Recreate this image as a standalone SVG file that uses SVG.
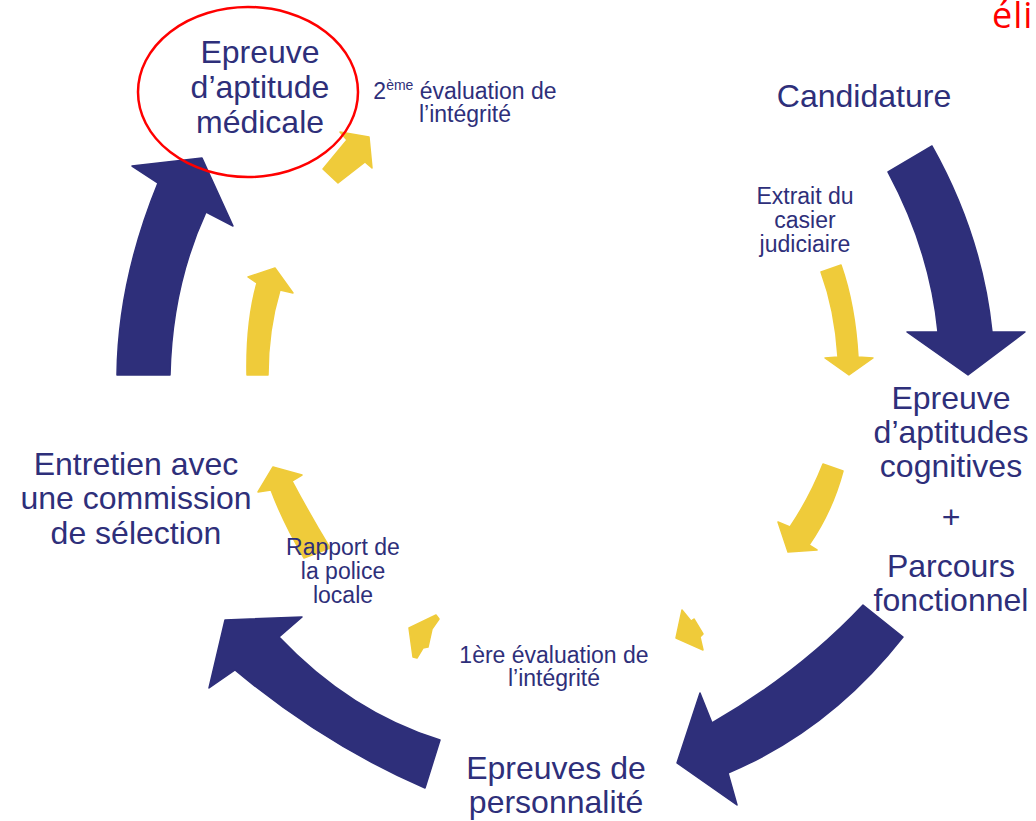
<svg xmlns="http://www.w3.org/2000/svg" width="1036" height="821" viewBox="0 0 1036 821">
<style>
.navy{fill:#2E2F7A;stroke:#2E2F7A;stroke-width:1.5;stroke-linejoin:round}
.yel{fill:#EFCB3A;stroke:#EFCB3A;stroke-width:1.5;stroke-linejoin:round}
.big{font-family:"Liberation Sans",Arial,sans-serif;font-size:32px;fill:#2E2F7A;text-anchor:middle}
.sm{font-family:"Liberation Sans",Arial,sans-serif;font-size:23px;fill:#2E2F7A;text-anchor:middle}
</style>
<rect width="1036" height="821" fill="#ffffff"/>
<g id="connectors">
  <path id="a1" class="navy" d="M888,172 L932,146 Q982,235 992,332 L1025,332 L968,375 L907,332 L938,332 Q930,250 888,172 Z"/>
  <path id="a2" class="navy" d="M863,605 L903,637 Q830,730 728,773 L737,805 L677,763 L700,693 L712,723 Q800,672 863,605 Z"/>
  <path id="a3" class="navy" d="M440,740 Q350,712 279,637 L302,617 L225,620 L209,688 L235,670 Q325,745 425,788 Z"/>
  <path id="a4" class="navy" d="M117,375 L170,375 Q172,286 206,212 L233,226 L202,158 L132,166 L158,183 Q118,281 117,375 Z"/>
  <path id="y1" class="yel" d="M821,272 L841,265 Q855,305 858,357 L873,358 L849,375 L825,358 L838,357 Q835,310 821,272 Z"/>
  <path id="y2" class="yel" d="M823,464 L843,471 Q832,512 809,545 L817,550 L788,552 L778,522 L790,527 Q810,497 823,464 Z"/>
  <polygon id="y3" class="yel" points="682,610 691,621 694,619 703,634 700,637 703,650 676,638"/>
  <polygon id="y4" class="yel" points="409,628 436,615 439,619 432,629 428,647 423,648 417,658 413,657"/>
  <path id="y5" class="yel" d="M304,558 Q283,522 271,490 L258,492 L273,467 L302,475 L292,481 Q310,515 330,548 Z"/>
  <path id="y6" class="yel" d="M247,375 Q246,322 257,283 L248,277 L275,268 L293,293 L280,290 Q268,330 268,375 Z"/>
  <path id="y7" class="yel" d="M323,169 L347,140 L340,132 L369,137 L372,168 L365,162 L338,183 Z"/>
</g>
<g id="node-medicale">
  <text class="big" x="260" y="63">Epreuve</text>
  <text class="big" x="260" y="98">d’aptitude</text>
  <text class="big" x="260" y="133">médicale</text>
</g>
<g id="node-candidature">
  <text class="big" x="864" y="107">Candidature</text>
</g>
<g id="node-cognitives">
  <text class="big" x="951" y="409">Epreuve</text>
  <text class="big" x="951" y="443">d’aptitudes</text>
  <text class="big" x="951" y="477">cognitives</text>
  <text class="big" x="951" y="528">+</text>
  <text class="big" x="951" y="577">Parcours</text>
  <text class="big" x="951" y="611">fonctionnel</text>
</g>
<g id="node-personnalite">
  <text class="big" x="556" y="779">Epreuves de</text>
  <text class="big" x="556" y="813">personnalité</text>
</g>
<g id="node-entretien">
  <text class="big" x="136" y="475">Entretien avec</text>
  <text class="big" x="136" y="509">une commission</text>
  <text class="big" x="136" y="544">de sélection</text>
</g>
<g id="label-extrait">
  <text class="sm" x="805" y="204">Extrait du</text>
  <text class="sm" x="805" y="228">casier</text>
  <text class="sm" x="805" y="252">judiciaire</text>
</g>
<g id="label-rapport">
  <text class="sm" x="343" y="555">Rapport de</text>
  <text class="sm" x="343" y="579">la police</text>
  <text class="sm" x="343" y="603">locale</text>
</g>
<g id="label-eval1">
  <text class="sm" x="554" y="663">1ère évaluation de</text>
  <text class="sm" x="554" y="686">l’intégrité</text>
</g>
<g id="label-eval2">
  <text class="sm" x="465" y="99">2<tspan font-size="14" dy="-9">ème</tspan><tspan dy="9"> évaluation de</tspan></text>
  <text class="sm" x="465" y="122">l’intégrité</text>
</g>
<ellipse id="highlight" cx="248" cy="92" rx="110" ry="85" fill="none" stroke="#FF0000" stroke-width="2.5"/>
<text id="eli" x="992" y="28" font-family="'Open Sans','Liberation Sans',sans-serif" font-size="36" letter-spacing="1" fill="#FF0000">éli</text>
</svg>
